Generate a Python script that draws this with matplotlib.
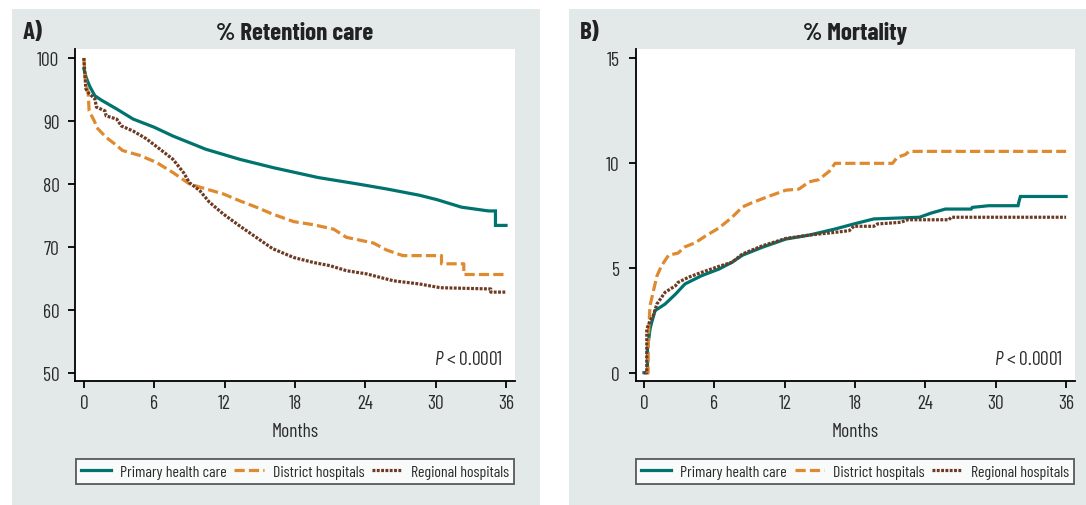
import matplotlib
matplotlib.use("Agg")
import matplotlib.pyplot as plt
from matplotlib.patches import Rectangle

plt.rcParams['font.family'] = ['Barlow Condensed', 'DejaVu Sans']
plt.rcParams['mathtext.fontset'] = 'custom'
plt.rcParams['mathtext.it'] = 'Barlow Condensed:italic'
plt.rcParams['mathtext.rm'] = 'Barlow Condensed'

# --- Data (months, %) ---
series_names = ["Primary health care", "District hospitals", "Regional hospitals"]

# A) retention in care
ret_primary_t = [0, 0.2, 0.5, 0.94, 1.5, 2.8, 4.2, 6, 7.6, 10.4, 13.3, 16.1, 17.8, 20, 23.3,
                 25.8, 28.6, 30.1, 32.2, 34.5, 35.1, 35.1, 36]
ret_primary_v = [98.3, 96.9, 95.5, 94.0, 93.3, 91.9, 90.3, 89.0, 87.6, 85.5, 83.9, 82.6, 81.9, 81.0, 80.0,
                 79.2, 78.2, 77.5, 76.3, 75.7, 75.7, 73.4, 73.4]

ret_district_t = [0, 0.1, 0.22, 0.37, 0.45, 0.94, 1.07, 1.9, 2.8, 3.3, 4.8, 6.2, 7.6, 9.0, 10.4, 11.9,
                  13.3, 14.7, 16.1, 17.9, 19.6, 21.3, 22.4, 24.7, 25.8, 27.2, 30.5, 30.5, 32.4, 32.4, 36]
ret_district_v = [100, 97, 95.6, 94.5, 91.6, 89.8, 89.0, 87.4, 86.1, 85.3, 84.5, 83.4, 81.8, 80.0, 79.2, 78.4,
                  77.3, 76.3, 75.2, 74.0, 73.5, 72.8, 71.5, 70.6, 69.5, 68.6, 68.6, 67.3, 67.3, 65.6, 65.6]

ret_regional_t = [0, 0.17, 0.37, 0.94, 1.07, 1.8, 1.9, 2.8, 3.2, 4.2, 5.3, 6.5, 7.6, 8.5, 9.0, 9.9, 10.7,
                  11.9, 13.3, 14.7, 16.1, 17.9, 19.6, 21.0, 22.4, 24.1, 26.4, 28.6, 30.4, 34.7, 34.7, 36]
ret_regional_v = [100, 95.1, 94.5, 93.5, 92.2, 91.6, 90.8, 90.3, 89.2, 88.4, 87.2, 85.5, 83.9, 81.8, 80.2, 78.9, 77.1,
                  75.2, 73.3, 71.5, 69.7, 68.3, 67.5, 67.0, 66.2, 65.7, 64.6, 64.1, 63.5, 63.3, 62.8, 62.8]

# B) mortality
mort_primary_t = [0, 0.3, 0.3, 0.52, 0.66, 0.95, 1.8, 2.7, 3.5, 4.9, 6.4, 7.5, 8.4, 10.1, 12.1, 14.1,
                  16.3, 17.9, 19.6, 23.5, 24.5, 25.7, 27.9, 28.0, 29.4, 31.9, 32.0, 32.1, 36]
mort_primary_v = [0, 0, 1.13, 2.08, 2.4, 2.96, 3.27, 3.75, 4.23, 4.62, 4.94, 5.26, 5.6, 5.98, 6.37, 6.56,
                  6.85, 7.09, 7.33, 7.41, 7.61, 7.80, 7.80, 7.88, 7.96, 7.96, 8.2, 8.4, 8.4]

mort_district_t = [0, 0.35, 0.38, 0.52, 1.1, 1.5, 2.1, 2.9, 3.5, 4.4, 5.2, 6.4, 7.5, 8.4, 9.2, 10.6,
                   12.1, 13.2, 14.1, 14.9, 15.8, 16.3, 21.2, 21.6, 22.3, 22.6, 36]
mort_district_v = [0, 0, 1.76, 3.2, 4.6, 5.1, 5.6, 5.7, 6.0, 6.2, 6.5, 6.9, 7.4, 7.9, 8.1, 8.4,
                   8.7, 8.75, 9.1, 9.2, 9.6, 9.98, 9.98, 10.27, 10.4, 10.55, 10.55]

mort_regional_t = [0, 0.24, 0.24, 0.52, 0.8, 1.1, 1.8, 2.7, 2.9, 3.8, 4.9, 6.4, 7.5, 8.4, 10.1, 12.1,
                   14.1, 16.3, 17.5, 17.9, 19.6, 19.9, 21.9, 22.5, 26.0, 26.2, 36]
mort_regional_v = [0, 0, 2.08, 2.48, 2.72, 3.27, 3.83, 4.15, 4.3, 4.55, 4.78, 5.07, 5.26, 5.66, 6.05, 6.4,
                   6.56, 6.69, 6.77, 6.98, 6.98, 7.09, 7.17, 7.29, 7.29, 7.41, 7.41]

x_ticks = [0, 6, 12, 18, 24, 30, 36]

# --- Styles ---
PANEL_BG = "#E3E9E9"
COLORS = ["#00736E", "#DF8A2E", "#6D3A24"]
LW = 2.3
STYLES = ["-", (0, (3.2, 1.3)), (0, (0.9, 0.45))]
TXT = "#2b2b2b"

fig = plt.figure(figsize=(10.86, 5.06), dpi=100)
W, H = 1086.0, 506.0


def px_box(x0, y0, x1, y1):
    # pixel box (top-left origin) -> figure fraction [left, bottom, width, height]
    return [x0 / W, 1 - y1 / H, (x1 - x0) / W, (y1 - y0) / H]


def panel(bg_box, ax_box, letter, title, ylim, yticks, curves):
    l, b, w, h = px_box(*bg_box)
    fig.patches.append(Rectangle((l, b), w, h, transform=fig.transFigure,
                                 facecolor=PANEL_BG, edgecolor="none", zorder=-5))
    ax = fig.add_axes(px_box(*ax_box))
    ax.set_zorder(2)
    ax.set_facecolor("white")

    lines = []
    for (t, v), name, c, ls in zip(curves, series_names, COLORS, STYLES):
        ln, = ax.plot(t, v, color=c, lw=LW, linestyle=ls, label=name,
                      solid_joinstyle="miter", dash_capstyle="butt")
        lines.append(ln)

    ax.set_xlim(-0.72, 36.75)
    ax.set_ylim(*ylim)
    ax.set_xticks(x_ticks)
    ax.set_yticks(yticks)
    for s in ["top", "right"]:
        ax.spines[s].set_visible(False)
    for s in ["left", "bottom"]:
        ax.spines[s].set_linewidth(1.3)
        ax.spines[s].set_color("black")
    ax.tick_params(direction="out", length=5, width=1.3, labelsize=14, labelcolor=TXT)
    ax.tick_params(axis="y", pad=6.5)
    ax.tick_params(axis="x", pad=4.5)
    ax.set_xlabel("Months", fontsize=14, color=TXT, labelpad=7)

    ax.set_title(title, fontsize=18, fontweight="bold", color="#222222", pad=7)
    fig.text((bg_box[0] + 11) / W, 1 - 33 / H, letter, fontsize=18, fontweight="bold",
             color="#222222", va="center", ha="left")

    ax.text(0.972, 0.068, r"$\mathit{P}$ < 0.0001", transform=ax.transAxes,
            ha="right", va="center", fontsize=14, color=TXT)

    # legend box sits under the axis, about as wide as the plot area
    leg = ax.legend(handles=lines, loc="center", bbox_to_anchor=(0.5, -0.2714),
                    ncol=3, frameon=True, fancybox=False, borderaxespad=0,
                    fontsize=11.5, handlelength=1.85, handletextpad=0.55, columnspacing=0.5,
                    borderpad=0.32)
    leg.get_frame().set_edgecolor("#333333")
    leg.get_frame().set_linewidth(1.3)
    for txt in leg.get_texts():
        txt.set_color(TXT)
    return ax


panel((11.5, 10, 540, 506), (75.4, 50, 514.8, 382.3), "A)", "% Retention care",
      (48.63, 101.43), [50, 60, 70, 80, 90, 100],
      [(ret_primary_t, ret_primary_v), (ret_district_t, ret_district_v),
       (ret_regional_t, ret_regional_v)])

panel((568.5, 10, 1086, 506), (635.5, 50, 1074.9, 382.3), "B)", "% Mortality",
      (-0.41, 15.43), [0, 5, 10, 15],
      [(mort_primary_t, mort_primary_v), (mort_district_t, mort_district_v),
       (mort_regional_t, mort_regional_v)])

fig.savefig("out.png", dpi=100)
